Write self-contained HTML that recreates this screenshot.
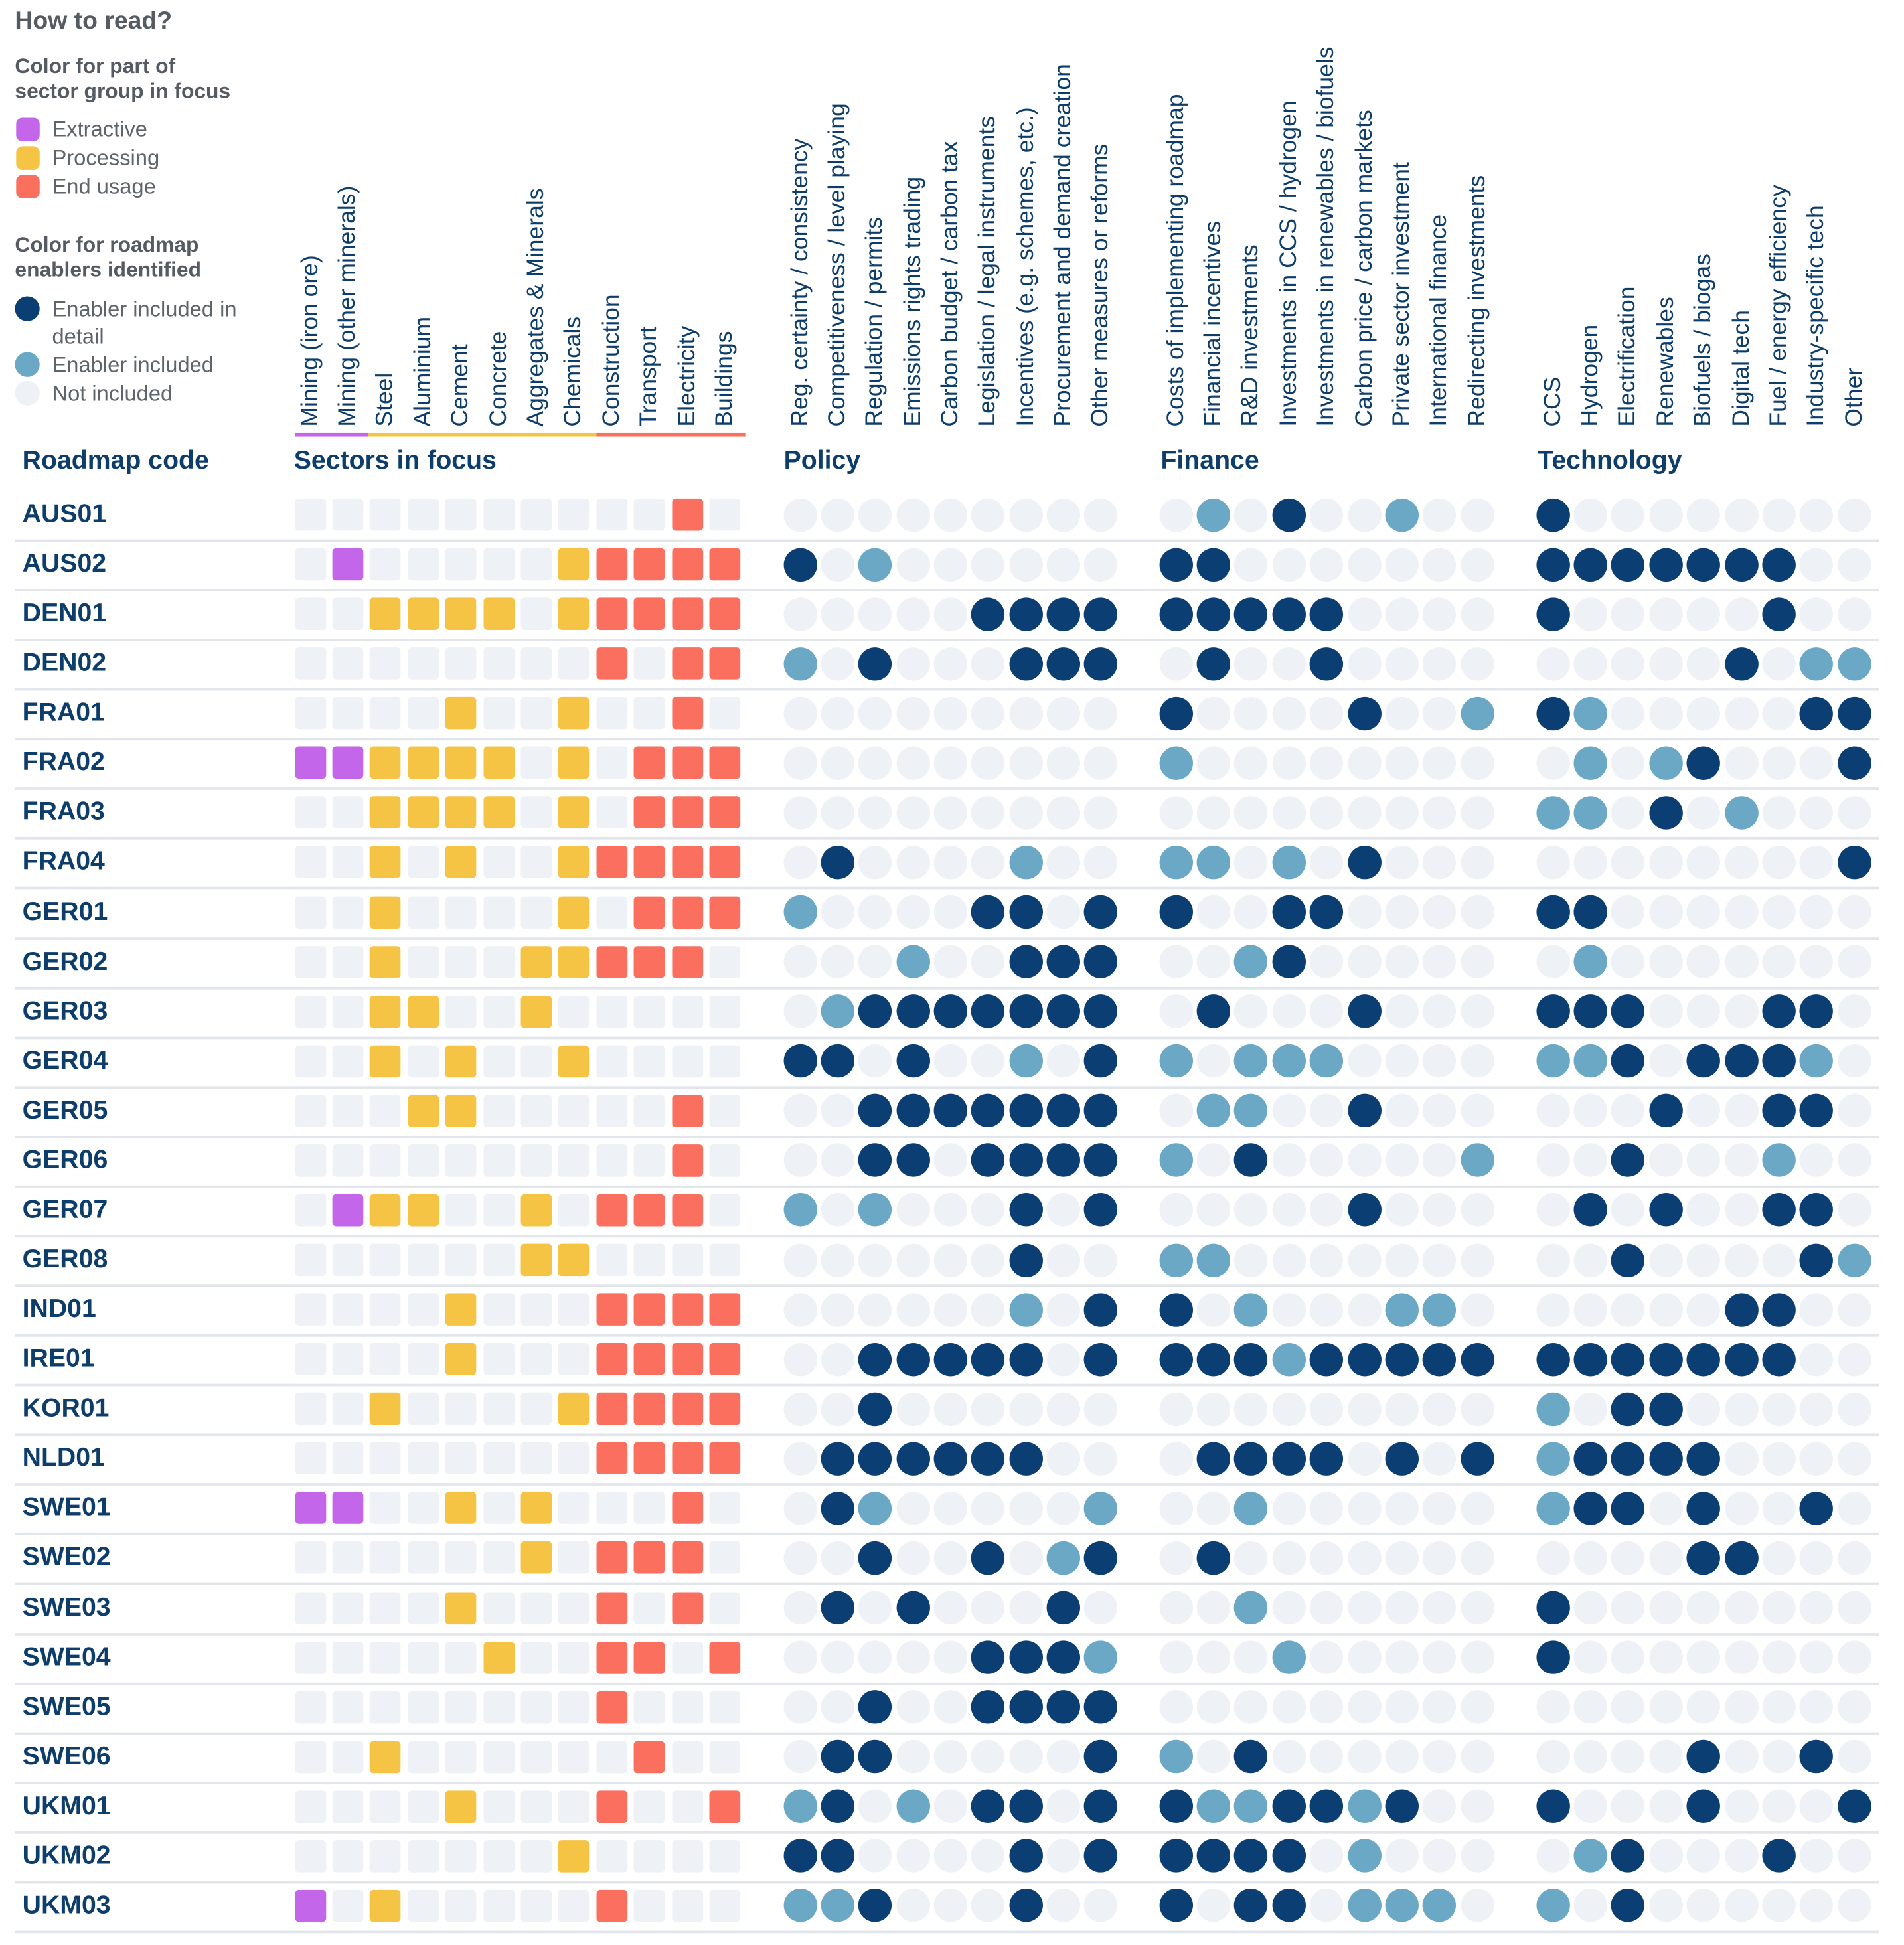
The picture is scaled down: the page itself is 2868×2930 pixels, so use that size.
<!DOCTYPE html>
<html><head><meta charset="utf-8">
<style>
html,body{margin:0;padding:0;background:#fff;}
body{width:2868px;height:2930px;overflow:hidden;position:relative;font-family:"Liberation Sans",sans-serif;}
#wrap{position:absolute;left:0;top:0;width:1520px;height:1553px;transform-origin:0 0;transform:scale(1.868,1.868);}
.abs{position:absolute;}
.lg{color:#555b62;font-weight:bold;font-size:17px;line-height:20px;}
.lt{color:#5e646b;font-size:17.5px;line-height:20px;}
.hd{color:#0d3d6b;font-weight:bold;font-size:21px;}
.rot{position:absolute;transform-origin:0 0;transform:rotate(-90deg);white-space:nowrap;font-size:19px;line-height:19px;color:#0d3d6b;}
</style></head>
<body>
<div id="wrap">
<div class="abs" style="left:12px;top:6px;font-size:20px;font-weight:bold;color:#555b62">How to read?</div>
<div class="abs lg" style="left:12px;top:44px">Color for part of<br>sector group in focus</div>
<div class="abs" style="left:13px;top:95px;width:19px;height:19px;border-radius:5px;background:#c466ea"></div>
<div class="abs lt" style="left:42px;top:94px">Extractive</div>
<div class="abs" style="left:13px;top:118px;width:19px;height:19px;border-radius:5px;background:#f5c445"></div>
<div class="abs lt" style="left:42px;top:117px">Processing</div>
<div class="abs" style="left:13px;top:141px;width:19px;height:19px;border-radius:5px;background:#fa6f5e"></div>
<div class="abs lt" style="left:42px;top:140px">End usage</div>
<div class="abs lg" style="left:12px;top:188px">Color for roadmap<br>enablers identified</div>
<div class="abs" style="left:12px;top:239px;width:20px;height:20px;border-radius:50%;background:#0b3f73"></div>
<div class="abs lt" style="left:42px;top:238px;line-height:22px">Enabler included in<br>detail</div>
<div class="abs" style="left:12px;top:284px;width:20px;height:20px;border-radius:50%;background:#6aa8c6"></div>
<div class="abs lt" style="left:42px;top:284px">Enabler included</div>
<div class="abs" style="left:12px;top:307px;width:20px;height:20px;border-radius:50%;background:#eef1f5"></div>
<div class="abs lt" style="left:42px;top:307px">Not included</div>

<div class="abs" style="left:238px;top:349px;width:59px;height:3px;background:#c466ea"></div>
<div class="abs" style="left:297px;top:349px;width:184px;height:3px;background:#f5c445"></div>
<div class="abs" style="left:481px;top:349px;width:120px;height:3px;background:#fa6f5e"></div>

<div class="abs hd" style="left:18px;top:360px">Roadmap code</div>
<div class="abs hd" style="left:237px;top:360px">Sectors in focus</div>
<div class="abs hd" style="left:632px;top:360px">Policy</div>
<div class="abs hd" style="left:936px;top:360px">Finance</div>
<div class="abs hd" style="left:1240px;top:360px">Technology</div>
</div>
<script>
const sectorLabels=["Mining (iron ore)","Mining (other minerals)","Steel","Aluminium","Cement","Concrete","Aggregates & Minerals","Chemicals","Construction","Transport","Electricity","Buildings"];
const sectorGroups=[0,0,1,1,1,1,1,1,2,2,2,2];
const policyLabels=["Reg. certainty / consistency","Competitiveness / level playing","Regulation / permits","Emissions rights trading","Carbon budget / carbon tax","Legislation / legal instruments","Incentives (e.g. schemes, etc.)","Procurement and demand creation","Other measures or reforms"];
const financeLabels=["Costs of implementing roadmap","Financial incentives","R&D investments","Investments in CCS / hydrogen","Investments in renewables / biofuels","Carbon price / carbon markets","Private sector investment","International finance","Redirecting investments"];
const techLabels=["CCS","Hydrogen","Electrification","Renewables","Biofuels / biogas","Digital tech","Fuel / energy efficiency","Industry-specific tech","Other"];
const codes=["AUS01","AUS02","DEN01","DEN02","FRA01","FRA02","FRA03","FRA04","GER01","GER02","GER03","GER04","GER05","GER06","GER07","GER08","IND01","IRE01","KOR01","NLD01","SWE01","SWE02","SWE03","SWE04","SWE05","SWE06","UKM01","UKM02","UKM03"];
const sectors=[
"000000000010","010000011111","001111011111","000000001011","000010010010","111111010111","001111010111","001010011111","001000010111","001000111110",
"001100100000","001010010000","000110000010","000000000010","011100101110","000000110000","000010001111","000010001111","001000011111","000000001111",
"110010100010","000000101110","000010001010","000001001101","000000001000","001000000100","000010001001","000000010000","101000001000"];
const policy=["000000000","201000000","000002222","102000222","000000000","000000000","000000000","020000100","100002202","000100222",
"012222222","220200102","002222222","002202222","101000202","000000200","000000102","002222202","002000000","022222200",
"021000001","002002012","020200020","000002221","002002222","022000002","120102202","220000202","112000200"];
const finance=["010200100","220000000","222220000","020020000","200002001","100000000","000000000","110102000","200220000","001200000",
"020002000","101110000","011002000","102000001","000002000","110000000","201000110","222122222","000000000","022220202",
"001000000","020000000","001000000","000100000","000000000","102000000","211221200","222201000","202201110"];
const tech=["200000000","222222200","200000200","000002011","210000022","010120002","110201000","000000002","220000000","010000000",
"222000220","112022210","000200220","002000100","020200220","002000021","000002200","222222200","102200000","122220000",
"122020020","000022000","200000000","200000000","000000000","000020020","200020002","012000200","102000000"];
const W=document.getElementById('wrap');
const secX=i=>250+i*30.4, polX=i=>645+i*30.35, finX=i=>948+i*30.4, techX=i=>1252+i*30.4, rowY=r=>415+r*40.07;
const gcol=["#c466ea","#f5c445","#fa6f5e"], ecol=["#eef1f5","#6aa8c6","#0b3f73"];
function header(txt,cx,name){const d=document.createElement('div');d.className='rot';d.textContent=txt;


d.style.left=(cx-9.5)+'px';d.style.top='344px';W.appendChild(d);}
sectorLabels.forEach((t,i)=>header(t,secX(i),'sector-label-'+i));
policyLabels.forEach((t,i)=>header(t,polX(i),'policy-label-'+i));
financeLabels.forEach((t,i)=>header(t,finX(i),'finance-label-'+i));
techLabels.forEach((t,i)=>header(t,techX(i),'technology-label-'+i));
codes.forEach((c,r)=>{const y=rowY(r);
 const l=document.createElement('div');l.className='abs hd';l.style.left='18px';l.style.top=(y-14)+'px';l.style.lineHeight='28px';l.textContent=c;
 
 
 W.appendChild(l);
 const s=document.createElement('div');s.className='abs';s.style.left='12px';s.style.width='1503px';s.style.height='2px';s.style.background='#e2e6ea';s.style.top=(y+20)+'px';
 
 
 W.appendChild(s);
 for(let i=0;i<12;i++){const v=sectors[r][i]==='1';const b=document.createElement('div');b.className='abs';
  b.style.left=(secX(i)-12.5)+'px';b.style.top=(y-13)+'px';b.style.width='25px';b.style.height='26px';b.style.borderRadius='3px';
  b.style.background=v?gcol[sectorGroups[i]]:'#eef1f5';
  
  
  W.appendChild(b);}
 [[policy,polX,'policy-dot'],[finance,finX,'finance-dot'],[tech,techX,'technology-dot']].forEach(([arr,fx,nm])=>{
  for(let i=0;i<9;i++){const v=+arr[r][i];const d=document.createElement('div');d.className='abs';
   d.style.left=(fx(i)-13.5)+'px';d.style.top=(y-13.5)+'px';d.style.width='27px';d.style.height='27px';d.style.borderRadius='50%';d.style.background=ecol[v];
   
   
   W.appendChild(d);}
 });
});
</script>
</body></html>
